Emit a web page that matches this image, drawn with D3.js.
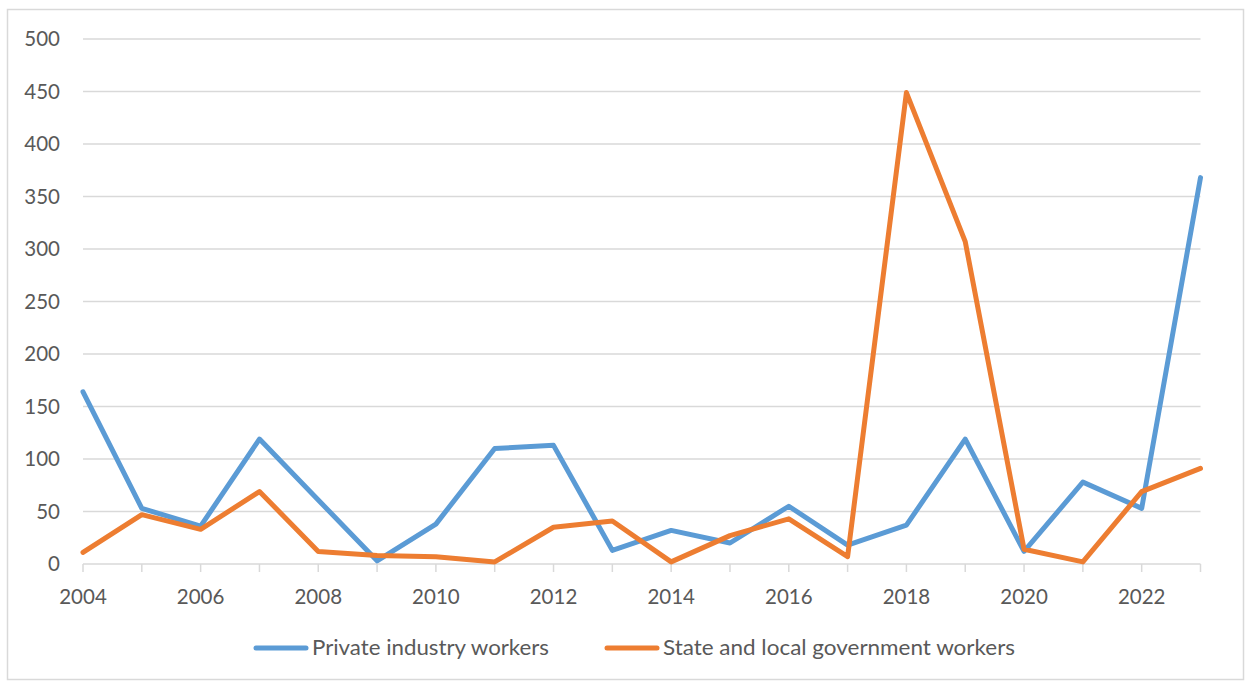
<!DOCTYPE html>
<html><head><meta charset="utf-8">
<script src="https://cdn.jsdelivr.net/npm/d3@7"></script>
<style>html,body{margin:0;padding:0;background:#fff;}svg{display:block;}</style>
</head><body>
<script>
const years = [2004,2005,2006,2007,2008,2009,2010,2011,2012,2013,2014,2015,2016,2017,2018,2019,2020,2021,2022,2023];
const privateWorkers = [164,53,36,119,61,3,38,110,113,13,32,20,55,18,37,119,12,78,53,368];
const stateLocalWorkers = [11,47,33,69,12,8,7,2,35,41,2,27,43,7,449,307,14,2,69,91];
const yTicks = [0,50,100,150,200,250,300,350,400,450,500];
const xTickLabels = [2004,2006,2008,2010,2012,2014,2016,2018,2020,2022];
const seriesNames = ["Private industry workers","State and local government workers"];
const seriesColors = ["#5B9BD5","#ED7D31"];

const W=1250,H=684;
const svg=d3.select("body").append("svg").attr("width",W).attr("height",H);
svg.append("rect").attr("x",7.5).attr("y",9.5).attr("width",1236).attr("height",670).attr("fill","#fff").attr("stroke","#d9d9d9").attr("stroke-width",1.5);

const x=d3.scaleLinear().domain([2004,2023]).range([83,1200.5]);
const y=d3.scaleLinear().domain([0,500]).range([564,39]);
const font="Lato, 'Open Sans', sans-serif";

// gridlines
svg.append("g").selectAll("line").data(yTicks).join("line")
  .attr("x1",x(2004)).attr("x2",x(2023)).attr("y1",d=>y(d)).attr("y2",d=>y(d))
  .attr("stroke","#d9d9d9").attr("stroke-width",1.5);

// y labels
svg.append("g").selectAll("text").data(yTicks).join("text")
  .attr("x",60).attr("y",d=>y(d)).attr("dy","0.36em").attr("text-anchor","end")
  .attr("font-family",font).attr("font-size",20.5).attr("fill","#595959").text(d=>d);

// x ticks
svg.append("g").selectAll("line").data(years).join("line")
  .attr("x1",d=>x(d)).attr("x2",d=>x(d)).attr("y1",564).attr("y2",572)
  .attr("stroke","#d9d9d9").attr("stroke-width",1.5);
svg.append("g").selectAll("text").data(xTickLabels).join("text")
  .attr("x",d=>x(d)).attr("y",604).attr("text-anchor","middle")
  .attr("font-family",font).attr("font-size",20.5).attr("fill","#595959").text(d=>d);

// lines
const line=d3.line().x((d,i)=>x(years[i])).y(d=>y(d));
[privateWorkers,stateLocalWorkers].forEach((s,k)=>{
  svg.append("path").datum(s).attr("d",line).attr("fill","none")
    .attr("stroke",seriesColors[k]).attr("stroke-width",5).attr("stroke-linejoin","round").attr("stroke-linecap","round");
});

// legend
const legX=[254,605], legW=[237,352];
seriesNames.forEach((n,k)=>{
  svg.append("line").attr("x1",legX[k]+2).attr("x2",legX[k]+52).attr("y1",648).attr("y2",648)
    .attr("stroke",seriesColors[k]).attr("stroke-width",5).attr("stroke-linecap","round");
  svg.append("text").attr("x",legX[k]+58).attr("y",648).attr("dy","0.35em")
    .attr("font-family",font).attr("font-size",21).attr("fill","#595959")
    .attr("textLength",legW[k]).attr("lengthAdjust","spacingAndGlyphs").text(n);
});
</script>
</body></html>
